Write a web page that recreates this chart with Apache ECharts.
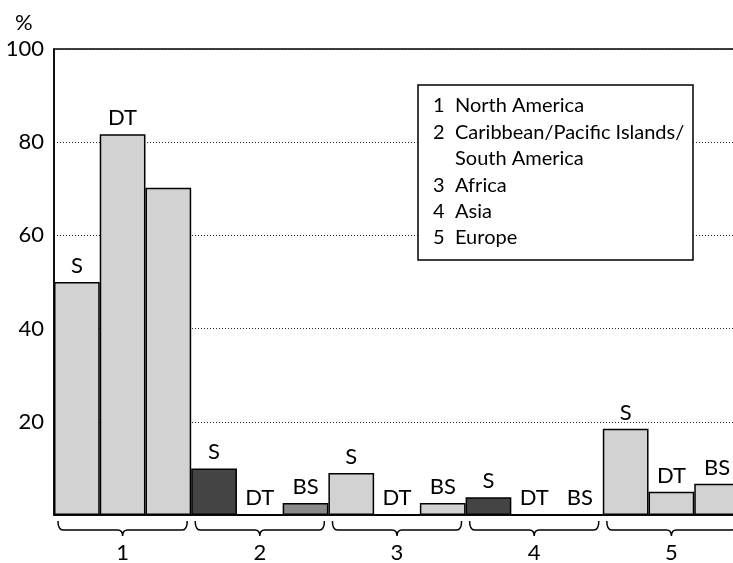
<!DOCTYPE html>
<html><head><meta charset="utf-8">
<script src="https://cdn.jsdelivr.net/npm/echarts@6/dist/echarts.min.js"></script>
<style>html,body{margin:0;padding:0;background:#fff}#c{width:733px;height:563px}</style>
</head><body><div id="c"></div>
<script>
// ---- data ----
const groups = ['1', '2', '3', '4', '5'];
const barNames = ['S', 'DT', 'BS'];
const sValues = [50, 10, 9, 3.8, 18.5];
const dtValues = [81.7, 0, 0, 0, 5];
const bsValues = [70.2, 2.6, 2.6, 0, 6.7];
const yTicks = [20, 40, 60, 80, 100];
const legendNumbers = ['1', '2', '', '3', '4', '5'];
const legendTexts = ['North America', 'Caribbean/Pacific Islands/', 'South America', 'Africa', 'Asia', 'Europe'];

// ---- styles ----
const FONT = 'Lato';
const light = '#d2d2d2';
const fillFor = {
  S: ['light', 'dark', 'light', 'dark', 'light'],
  DT: ['light', 'light', 'light', 'light', 'light'],
  BS: ['light', 'mid', 'light', 'light', 'light']
};
const shade = { light: light, dark: '#444', mid: '#8a8a8a' };
const hideLabel = { BS: [0] };

function makeSeries(name, values) {
  return {
    type: 'bar', name: name,
    barGap: '0%', barCategoryGap: '0%',
    data: values.map((v, i) => ({
      value: v,
      itemStyle: { color: shade[fillFor[name][i]] },
      label: { show: !(hideLabel[name] && hideLabel[name].includes(i)) }
    })),
    itemStyle: { borderColor: '#000', borderWidth: 1.5 },
    label: { show: true, position: 'top', distance: 5, formatter: name,
             fontFamily: FONT, fontSize: 22, color: '#000' },
    z: 3
  };
}

const chart = echarts.init(document.getElementById('c'));
const legendGraphics = [{
  type: 'rect', shape: { x: 418, y: 85, width: 275, height: 175 },
  style: { fill: '#fff', stroke: '#000', lineWidth: 1.5 }, z: 10
}];
legendTexts.forEach((t, i) => {
  const y = 106 + i * 26.4;
  legendGraphics.push({ type: 'text', x: 433, y: y, z: 11,
    style: { text: legendNumbers[i], font: '20px ' + FONT, fill: '#000', verticalAlign: 'middle' } });
  legendGraphics.push({ type: 'text', x: 455, y: y, z: 11,
    style: { text: t, font: '20px ' + FONT, fill: '#000', verticalAlign: 'middle' } });
});

chart.setOption({
  animation: false,
  title: { text: '%', left: 10, top: 7, textStyle: { fontFamily: FONT, fontSize: 22, fontWeight: 'normal', color: '#000' } },
  grid: { left: 54, top: 49, bottom: 48, width: 686, outerBoundsMode: 'none', containLabel: false,
          show: true, borderColor: '#000', borderWidth: 1.5, backgroundColor: 'transparent' },
  xAxis: {
    type: 'category', data: groups,
    axisLine: { lineStyle: { color: '#000', width: 1.5 } },
    axisTick: { show: false },
    axisLabel: { margin: 27, fontFamily: FONT, fontSize: 22, color: '#000' }
  },
  yAxis: {
    type: 'value', min: 0, max: 100, interval: 20,
    axisLine: { show: true, lineStyle: { color: '#000', width: 1.5 } },
    axisTick: { show: false },
    axisLabel: { margin: 10, fontFamily: FONT, fontSize: 22, color: '#000',
      formatter: v => (yTicks.includes(v) ? String(v) : '') },
    splitLine: { show: true, lineStyle: { color: '#222', width: 1, type: [1, 2] } }
  },
  graphic: legendGraphics,
  series: [
    makeSeries('S', sValues),
    makeSeries('DT', dtValues),
    makeSeries('BS', bsValues),
    {
      type: 'custom', silent: true, clip: false,
      data: groups.map((g, i) => [i, 0]),
      encode: { x: 0, y: 1 },
      renderItem: function (params, api) {
        const c = api.coord([api.value(0), 0]);
        const w = api.size([1, 0])[0];
        const x0 = c[0] - w / 2 + 4, x1 = c[0] + w / 2 - 4, xc = c[0];
        const y0 = c[1] + 6, y1 = c[1] + 15, y2 = c[1] + 21, r = 5;
        const d = 'M' + x0 + ' ' + y0 + ' Q' + x0 + ' ' + y1 + ' ' + (x0 + r) + ' ' + y1 +
          ' L' + (xc - r) + ' ' + y1 + ' Q' + xc + ' ' + y1 + ' ' + xc + ' ' + y2 +
          ' Q' + xc + ' ' + y1 + ' ' + (xc + r) + ' ' + y1 +
          ' L' + (x1 - r) + ' ' + y1 + ' Q' + x1 + ' ' + y1 + ' ' + x1 + ' ' + y0;
        return { type: 'path', shape: { pathData: d },
          style: { fill: 'none', stroke: '#000', lineWidth: 1.5 } };
      },
      z: 4
    }
  ]
});
</script></body></html>
